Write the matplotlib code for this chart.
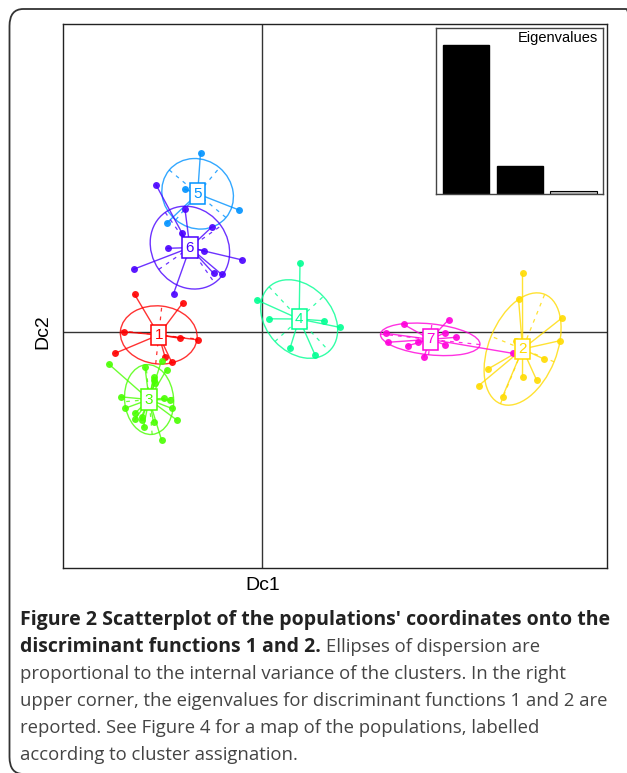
import matplotlib
matplotlib.use('Agg')
import matplotlib.pyplot as plt
from matplotlib.patches import Ellipse, FancyBboxPatch
import numpy as np

# coordinates of the populations on discriminant functions 1 and 2, per cluster
x1 = [-2.55, -1.59, -2.76, -1.64, -1.29, -2.94, -1.94, -1.81]
y1 = [0.76, 0.58, 0.01, -0.12, -0.15, -0.42, -0.49, -0.59]
x2 = [5.21, 5.13, 5.99, 5.07, 5.95, 5.63, 4.51, 5.21, 5.49, 4.33, 4.81]
y2 = [1.18, 0.67, 0.28, -0.17, -0.17, -0.53, -0.74, -0.89, -0.95, -1.07, -1.29]
x3 = [-3.07, -2.01, -2.34, -1.91, -2.17, -2.17, -2.14, -2.83, -1.97, -1.84,
      -2.74, -1.81, -2.54, -2.41, -2.54, -2.41, -1.71, -2.17, -2.37, -2.01]
y3 = [-0.63, -0.57, -0.70, -0.75, -0.89, -0.95, -1.02, -1.29, -1.32, -1.35,
      -1.52, -1.52, -1.62, -1.69, -1.74, -1.75, -1.75, -1.79, -1.89, -2.15]
x4 = [0.76, -0.11, 0.14, 1.24, 1.55, 0.56, 1.06]
y4 = [1.38, 0.65, 0.27, 0.23, 0.10, -0.32, -0.45]
x5 = [-1.23, -1.54, -0.47, -1.91]
y5 = [3.59, 2.86, 2.45, 2.18]
x6 = [-2.12, -1.54, -1.61, -1.01, -1.89, -1.16, -0.41, -2.57, -0.97, -0.81, -1.77]
y6 = [2.95, 2.46, 1.99, 2.10, 1.68, 1.63, 1.45, 1.26, 1.18, 1.16, 0.77]
x7 = [2.83, 3.73, 2.47, 3.66, 3.88, 2.51, 3.11, 3.66, 2.91, 3.24, 5.01]
y7 = [0.16, 0.25, -0.02, -0.01, -0.10, -0.20, -0.20, -0.25, -0.27, -0.49, -0.42]

# dispersion ellipses (semi axes and angle in degrees), clusters 1..7
ell_a = [0.77, 1.18, 0.70, 0.88, 0.74, 0.86, 1.00]
ell_b = [0.58, 0.68, 0.49, 0.66, 0.68, 0.76, 0.31]
ell_angle = [-6, 68, 95, -47, -40, -55, -6]

eigenvalues = [100, 19, 2.2]

cols = ["#FF0000", "#FFDB00", "#49FF00", "#00FF92", "#0092FF", "#4900FF", "#FF00DB"]

W, H = 627, 773
fig = plt.figure(figsize=(W / 100, H / 100), dpi=100)

# caption frame
frame = FancyBboxPatch((9.5 / W, 1 - 774 / H), (640 - 9.5) / W, (774 - 9) / H,
                       boxstyle="round,pad=0,rounding_size=0.022",
                       transform=fig.transFigure, fc='none', ec='#333333', lw=1.3)
fig.patches.append(frame)

ax = fig.add_axes([63.3 / W, 1 - 567.7 / H, 544 / W, 543.7 / H])
ax.set_xlim(-3.974, 6.906)
ax.set_ylim(-4.708, 6.166)
ax.set_xticks([])
ax.set_yticks([])
for s in ax.spines.values():
    s.set_linewidth(1.0)
    s.set_color('#222222')
ax.axhline(0, color='#333333', lw=1.0, zorder=1)
ax.axvline(0, color='#333333', lw=1.0, zorder=1)

xs = [x1, x2, x3, x4, x5, x6, x7]
ys = [y1, y2, y3, y4, y5, y6, y7]
for k in range(7):
    px = np.array(xs[k])
    py = np.array(ys[k])
    cx, cy = px.mean(), py.mean()
    col = cols[k]
    for a, b in zip(px, py):
        ax.plot([cx, a], [cy, b], color=col, lw=1.0, alpha=0.8, zorder=2)
    ax.plot(px, py, 'o', color=col, ms=5, mec='none', alpha=0.9, zorder=3)
    e = Ellipse((cx, cy), 2 * ell_a[k], 2 * ell_b[k], angle=ell_angle[k],
                fc='none', ec=col, lw=1.0, alpha=0.8, zorder=2)
    ax.add_patch(e)
    t = np.deg2rad(ell_angle[k])
    for r, th in [(ell_a[k], t), (ell_b[k], t + np.pi / 2)]:
        ax.plot([cx - r * np.cos(th), cx + r * np.cos(th)],
                [cy - r * np.sin(th), cy + r * np.sin(th)],
                color=col, lw=0.9, ls=(0, (3, 4)), alpha=0.8, zorder=2)
    ax.text(cx, cy, str(k + 1), ha='center', va='center', fontsize=11,
            family='Liberation Sans', color=col, zorder=5,
            bbox=dict(boxstyle='square,pad=0.22', fc='white', ec=col, lw=1.1))

fig.text(263 / W, 1 - 586 / H, 'Dc1', ha='center', va='center', fontsize=14,
         family='Liberation Sans')
fig.text(42.5 / W, 1 - 332 / H, 'Dc2', ha='center', va='center', fontsize=14,
         family='Liberation Sans', rotation=90)

# eigenvalue inset
ins = fig.add_axes([436 / W, 1 - 194 / H, 167.3 / W, 165.7 / H])
ins.bar([1, 2], eigenvalues[:2], width=0.86, color='black', edgecolor='black')
ins.bar([3], eigenvalues[2:], width=0.86, color='#BBBBBB', edgecolor='black', lw=0.8)
ins.set_xlim(0.446, 3.554)
ins.set_ylim(0, eigenvalues[0] * 165.7 / 149.3)
ins.set_xticks([])
ins.set_yticks([])
for s in ins.spines.values():
    s.set_color('#444444')
    s.set_linewidth(1.0)
ins.text(0.97, 0.985, 'Eigenvalues', transform=ins.transAxes, ha='right', va='top',
         fontsize=10.5, family='Liberation Sans')

# caption
cap_font = 'Open Sans'
fs_b = 14.0
fs = 13.3
x0 = 20.5 / W
line_y = [620, 647, 674, 701, 728, 755]
fig.text(x0, 1 - line_y[0] / H,
         "Figure 2 Scatterplot of the populations' coordinates onto the",
         fontsize=fs_b, family=cap_font, weight='bold', color='#222222', va='center')
bold2 = fig.text(x0, 1 - line_y[1] / H, "discriminant functions 1 and 2.",
                 fontsize=fs_b, family=cap_font, weight='bold', color='#222222', va='center')
r = fig.canvas.get_renderer()
bb = bold2.get_window_extent(renderer=r)
fig.text(bb.x1 / W + 5 / W, 1 - line_y[1] / H, "Ellipses of dispersion are",
         fontsize=fs, family=cap_font, color='#444444', va='center')
rest = ["proportional to the internal variance of the clusters. In the right",
        "upper corner, the eigenvalues for discriminant functions 1 and 2 are",
        "reported. See Figure 4 for a map of the populations, labelled",
        "according to cluster assignation."]
for i, line in enumerate(rest):
    fig.text(x0, 1 - line_y[i + 2] / H, line, fontsize=fs, family=cap_font,
             color='#444444', va='center')

fig.savefig('out.png', dpi=100)
